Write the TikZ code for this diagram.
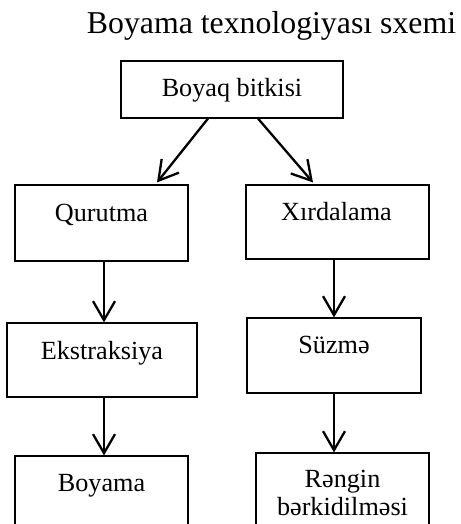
\documentclass[tikz,border=0pt]{standalone}
\usepackage{fontspec}
\setmainfont{Liberation Serif}
\usetikzlibrary{arrows.meta}
\begin{document}
\begin{tikzpicture}[x=1pt,y=-1pt,
  box/.style={draw=black, line width=1.1pt, inner sep=0pt},
  lbl/.style={anchor=base, inner sep=0pt, font=\fontsize{26.2}{28}\selectfont},
  arr/.style={line width=2.3pt, -{Straight Barb[length=19pt,width=22pt]}}]
\useasboundingbox (0,0) rectangle (460,524);
\clip (0,0) rectangle (460,524);
\fill[white] (0,0) rectangle (460,524);
\node[anchor=base, inner sep=0pt, font=\fontsize{31.8}{34}\selectfont] (title) at (271.5,34) {Boyama texnologiyası sxemi};
% boxes
\node[box, minimum width=222pt, minimum height=57pt] (top) at (232,89.5) {};
\node[box, minimum width=173pt, minimum height=76pt] (q) at (101.5,223) {};
\node[box, minimum width=183pt, minimum height=74pt] (x) at (337.5,222) {};
\node[box, minimum width=190pt, minimum height=74pt] (e) at (102,360) {};
\node[box, minimum width=174pt, minimum height=75pt] (s) at (334,355.5) {};
\node[box, minimum width=173pt, minimum height=90pt] (b) at (101.5,501) {};
\node[box, minimum width=173pt, minimum height=93pt] (r) at (342.5,499.5) {};
% labels
\node[lbl] (topt) at (232,97) {Boyaq bitkisi};
\node[lbl] (qt) at (101.5,221) {Qurutma};
\node[lbl] (xt) at (336.5,220) {Xırdalama};
\node[lbl] (et) at (102,359) {Ekstraksiya};
\node[lbl] (st) at (334,353) {Süzmə};
\node[lbl] (bt) at (101.5,491) {Boyama};
\node[lbl] (rt1) at (342.5,487) {Rəngin};
\node[lbl] (rt2) at (342.5,515) {bərkidilməsi};
% arrows
\draw[arr] ([xshift=-24pt]top.south) -- ([xshift=55.5pt,yshift=2pt]q.north);
\draw[arr] ([xshift=26pt]top.south) -- ([xshift=-24.5pt,yshift=2pt]x.north);
\draw[arr] ([xshift=2.5pt]q.south) -- ([xshift=2pt]e.north);
\draw[arr] ([xshift=-3.5pt]x.south) -- ([xshift=-3.5pt]x.south |- s.north);
\draw[arr] ([xshift=2pt]e.south) -- ([xshift=2pt]e.south |- b.north);
\draw[arr] (s.south) -- (s.south |- r.north);
\end{tikzpicture}
\end{document}
